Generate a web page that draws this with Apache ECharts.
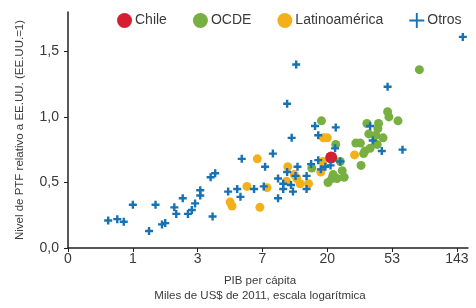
<!DOCTYPE html>
<html>
<head>
<meta charset="utf-8">
<script src="https://cdn.jsdelivr.net/npm/echarts@6/dist/echarts.min.js"></script>
<style>
  html, body { margin: 0; padding: 0; background: #fff; }
  #chart { width: 476px; height: 308px; }
</style>
</head>
<body>
<div id="chart"></div>
<script>
// x = position on the log axis, in tick steps (tick i carries label xTickLabels[i])
const xTickLabels = ['0', '1', '3', '7', '20', '53', '143']
const yTicks = [0, 0.5, 1, 1.5]

const chileX = [4.06]
const chileY = [0.69]

const ocdeX = [5.42, 3.91, 4.93, 4.95, 5.09, 4.61, 4.79, 4.78, 4.64, 4.75, 4.86, 4.13, 4.44, 4.51,
  4.77, 4.66, 4.58, 4.56, 4.52, 3.76, 4.20, 4.23, 4.09, 4.26, 4.15, 4.07, 4.01]
const ocdeY = [1.36, 0.97, 1.04, 1.00, 0.97, 0.95, 0.95, 0.91, 0.87, 0.86, 0.84, 0.79, 0.80, 0.80,
  0.79, 0.76, 0.74, 0.72, 0.63, 0.61, 0.66, 0.59, 0.56, 0.54, 0.53, 0.53, 0.50]

const latamX = [2.50, 2.53, 2.76, 2.92, 2.96, 3.07, 3.37, 3.39, 3.49, 3.53, 3.58, 3.71, 3.90, 3.93, 3.94, 4.00, 4.42]
const latamY = [0.35, 0.32, 0.47, 0.68, 0.31, 0.46, 0.51, 0.62, 0.56, 0.53, 0.49, 0.49, 0.58, 0.66, 0.84, 0.84, 0.71]

const otrosX = [0.62, 0.76, 0.86, 1.00, 1.25, 1.35, 1.45, 1.50, 1.64, 1.67, 1.77, 1.85, 1.91, 1.96, 2.04,
  2.04, 2.20, 2.27, 2.23, 2.47, 2.61, 2.66, 2.68, 2.87, 3.02, 3.04, 3.16, 3.24, 3.24, 3.32,
  3.32, 3.38, 3.38, 3.44, 3.45, 3.47, 3.51, 3.52, 3.54, 3.68, 3.68, 3.75, 3.81, 3.86, 3.86,
  3.90, 3.97, 4.05, 4.12, 4.13, 4.20, 4.66, 4.70, 4.84, 4.93, 5.16, 6.09]
const otrosY = [0.21, 0.22, 0.20, 0.33, 0.13, 0.33, 0.18, 0.19, 0.31, 0.26, 0.38, 0.26, 0.29, 0.34, 0.44,
  0.40, 0.54, 0.57, 0.24, 0.43, 0.45, 0.39, 0.68, 0.45, 0.47, 0.62, 0.72, 0.53, 0.38, 0.49,
  0.45, 0.58, 1.10, 0.48, 0.84, 0.43, 0.55, 1.40, 0.62, 0.55, 0.45, 0.64, 0.93, 0.86, 0.67,
  0.60, 0.62, 0.63, 0.76, 0.92, 0.66, 0.93, 0.82, 0.74, 1.23, 0.75, 1.61]

const COLORS = {
  chile: '#d41f32',
  ocde: '#77b041',
  latam: '#f2b11b',
  otros: '#1672b3',
  axis: '#231f20',
  text: '#3a3a3a',
}
const FONT = '"Liberation Sans", Arial, sans-serif'
const CROSS = 'path://M0,3.5H3.5V0h3v3.5H10v3H6.5V10h-3V6.5H0z'
const CROSS_THIN = 'path://M0,7h7V0h2v7h7v2H9v7H7V9H0z'

const pts = (xs, ys) => xs.map((x, i) => [x, ys[i]])
const fmtComma = v => v.toFixed(1).replace('.', ',')

const chart = echarts.init(document.getElementById('chart'), null, { renderer: 'canvas' })
chart.setOption({
  animation: false,
  textStyle: { fontFamily: FONT, color: COLORS.text },
  grid: { left: 68, right: 8, top: 12, bottom: 54, containLabel: false },
  legend: {
    data: [
      { name: 'Chile', icon: 'circle' },
      { name: 'OCDE', icon: 'circle' },
      { name: 'Latinoamérica', icon: 'circle' },
      { name: 'Otros', icon: CROSS_THIN },
    ],
    left: 117, top: 13, width: 359, padding: 0,
    itemWidth: 15, itemHeight: 15, itemGap: 26,
    textStyle: { fontFamily: FONT, fontSize: 14, color: COLORS.text, padding: [0, 0, 0, -2] },
  },
  xAxis: {
    type: 'value', min: 0, max: 6.17,
    name: 'PIB per cápita\nMiles de US$ de 2011, escala logarítmica',
    nameLocation: 'middle', nameGap: 25,
    nameTextStyle: { fontFamily: FONT, fontSize: 11.5, lineHeight: 15, color: COLORS.text, padding: [0, 16, 0, 0], verticalAlign: 'top' },
    axisLine: { lineStyle: { color: COLORS.axis, width: 1.5 } },
    axisTick: { show: true, length: 4, inside: false, customValues: xTickLabels.map((_, i) => i), lineStyle: { color: COLORS.axis } },
    axisLabel: {
      customValues: xTickLabels.map((_, i) => i),
      formatter: v => xTickLabels[Math.round(v)],
      fontFamily: FONT, fontSize: 14, color: COLORS.text, margin: 4,
    },
    splitLine: { show: false },
  },
  yAxis: {
    type: 'value', min: 0, max: 1.8,
    name: 'Nivel de PTF relativo a EE.UU. (EE.UU.=1)',
    nameLocation: 'middle', nameGap: 42,
    nameTextStyle: { fontFamily: FONT, fontSize: 11.5, color: COLORS.text },
    axisLine: { show: true, lineStyle: { color: COLORS.axis, width: 1.5 } },
    axisTick: { show: true, length: 4, customValues: yTicks, lineStyle: { color: COLORS.axis } },
    axisLabel: {
      customValues: yTicks,
      formatter: fmtComma,
      fontFamily: FONT, fontSize: 14, color: COLORS.text, margin: 9,
    },
    splitLine: { show: false },
  },
  series: [
    {
      name: 'OCDE', type: 'scatter', symbol: 'circle', symbolSize: 9,
      data: pts(ocdeX, ocdeY), itemStyle: { color: COLORS.ocde, opacity: 1 },
    },
    {
      name: 'Latinoamérica', type: 'scatter', symbol: 'circle', symbolSize: 9,
      data: pts(latamX, latamY), itemStyle: { color: COLORS.latam, opacity: 1 },
    },
    {
      name: 'Chile', type: 'scatter', symbol: 'circle', symbolSize: 12,
      data: pts(chileX, chileY), itemStyle: { color: COLORS.chile, opacity: 1 },
    },
    {
      name: 'Otros', type: 'scatter', symbol: CROSS, symbolSize: 8,
      data: pts(otrosX, otrosY), itemStyle: { color: COLORS.otros, opacity: 1 },
    },
  ],
})
</script>
</body>
</html>
